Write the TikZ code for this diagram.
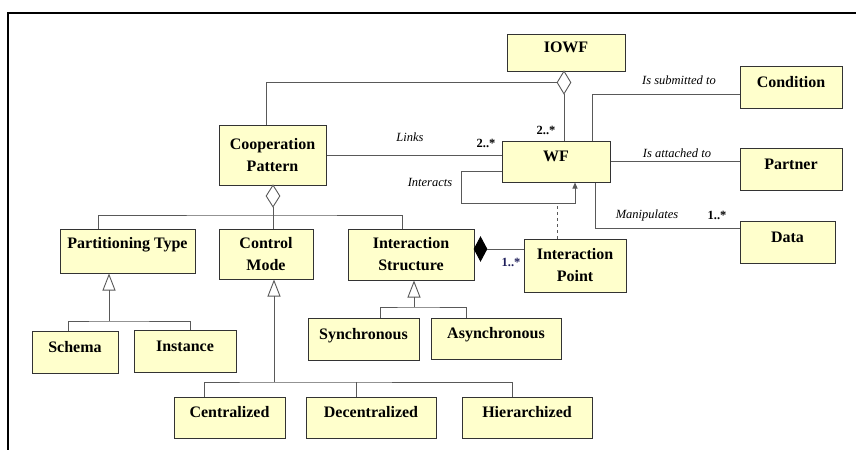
\documentclass[tikz,border=0pt]{standalone}
\usepackage{fontspec}
\setmainfont{Liberation Serif}
\usetikzlibrary{arrows.meta,shapes.geometric}
\definecolor{clsyellow}{RGB}{255,255,204}
\definecolor{multblue}{RGB}{30,30,90}
\newcommand{\clsfont}{\fontsize{16}{22}\selectfont\bfseries}
\newcommand{\labfont}{\fontsize{12.5}{14}\selectfont\itshape}
\newcommand{\multfont}{\fontsize{12.5}{14}\selectfont\bfseries}
\tikzset{
  cls/.style={draw=black!80,line width=1pt,fill=clsyellow,font=\clsfont,align=center,inner sep=0pt},
  oneline/.style={text height=11pt,text depth=11pt},
  link/.style={draw=black!65,line width=0.9pt},
  gen/.style={link,-{Triangle[open,length=17pt,width=13pt]}},
  agg/.style={diamond,draw=black!65,line width=0.9pt,fill=white,minimum width=14pt,minimum height=23pt,inner sep=0pt},
  lab/.style={font=\labfont},
  mult/.style={font=\multfont}
}
\begin{document}
\begin{tikzpicture}[x=1pt,y=-1pt]
\useasboundingbox (0,0) rectangle (856,450);
\draw[line width=2pt] (856,12.5) -- (7.5,12.5) -- (7.5,450);
\node[cls,oneline,minimum width=118pt,minimum height=37pt] (iowf) at (566,52.5) {IOWF};
\node[cls,minimum width=107pt,minimum height=60pt] (cp) at (272.5,155) {Cooperation\\Pattern};
\node[cls,oneline,minimum width=108pt,minimum height=41pt] (wf) at (556,161.5) {WF};
\node[cls,oneline,minimum width=102pt,minimum height=42pt] (condition) at (791,87) {Condition};
\node[cls,oneline,minimum width=102pt,minimum height=42pt] (partner) at (791,169) {Partner};
\node[cls,oneline,minimum width=95pt,minimum height=42pt] (data) at (787.5,242) {Data};
\node[cls,oneline,text depth=17pt,minimum width=135pt,minimum height=44pt] (ptype) at (127.5,251) {Partitioning Type};
\node[cls,minimum width=94pt,minimum height=50pt] (cmode) at (266,254) {Control\\Mode};
\node[cls,minimum width=126pt,minimum height=51pt] (istruct) at (411,254.5) {Interaction\\Structure};
\node[cls,minimum width=102pt,minimum height=53pt] (ipoint) at (575,265.5) {Interaction\\Point};
\node[cls,oneline,minimum width=86pt,minimum height=42pt] (schema) at (75,352) {Schema};
\node[cls,oneline,minimum width=102pt,minimum height=42pt] (instance) at (185,351) {Instance};
\node[cls,oneline,minimum width=111pt,minimum height=42pt] (sync) at (363.5,339) {Synchronous};
\node[cls,oneline,minimum width=130pt,minimum height=41pt] (async) at (496,338.5) {Asynchronous};
\node[cls,oneline,minimum width=111pt,minimum height=41pt] (central) at (229.5,417.5) {Centralized};
\node[cls,oneline,minimum width=130pt,minimum height=41pt] (decentral) at (371,417.5) {Decentralized};
\node[cls,oneline,minimum width=130pt,minimum height=41pt] (hierarch) at (527,417.5) {Hierarchized};
\node[agg] (aggiowf) at (564,82.5) {};
\node[agg,minimum height=22pt] (aggcp) at (273,196) {};
\node[agg,draw=black,fill=black,minimum width=13pt,minimum height=24pt] (compis) at (480.5,249) {};
\draw[link] ([xshift=-6.5pt]cp.north) |- (aggiowf.west);
\draw[link] (aggiowf.south) -- (aggiowf.south |- wf.north);
\draw[link] (cp.east) -- (cp.east -| wf.west);
\coordinate (loop) at (461,203);
\draw[link,-{Triangle[length=6pt,width=5pt]}] ([yshift=-9.5pt]wf.west) -| (loop) -| ([xshift=19pt]wf.south);
\draw[link,dashed] ([xshift=-18pt]ipoint.north) -- ([xshift=-18pt]ipoint.north |- loop);
\draw[link] ([xshift=36pt]wf.north) |- ([yshift=-7pt]condition.west);
\draw[link] (wf.east) -- (wf.east -| partner.west);
\draw[link] ([xshift=39pt]wf.south) |- ([yshift=14pt]data.west);
\draw[link] (compis.east) -- (compis.east -| ipoint.west);
\coordinate (cpbar) at (273,215);
\draw[link] (aggcp.south) -- (cpbar);
\draw[link] ([xshift=-29.5pt]ptype.north) |- (cpbar) -| ([xshift=-9pt]istruct.north);
\draw[link] (cpbar) -- (cpbar |- cmode.north);
\coordinate (ptbar) at (109,321);
\draw[link] ([xshift=-7pt]schema.north) |- (ptbar) -| ([xshift=5pt]instance.north);
\draw[gen] (ptbar) -- (ptbar |- ptype.south);
\coordinate (cmbar) at (274,382);
\draw[link] ([xshift=-25.5pt]central.north) |- (cmbar) -| ([xshift=-15pt]hierarch.north);
\draw[link] ([xshift=-15pt]decentral.north) -- ([xshift=-15pt]decentral.north |- cmbar);
\draw[gen] (cmbar) -- (cmbar |- cmode.south);
\coordinate (isbar) at (414,307);
\draw[link] ([xshift=16.5pt]sync.north) |- (isbar) -| ([xshift=-30pt]async.north);
\draw[gen] (isbar) -- (isbar |- istruct.south);
\node[lab] (links) at (410,137) {Links};
\node[mult] (mlinks) at (486,143) {2..*};
\node[mult] (miowf) at (546,130) {2..*};
\node[lab] (interacts) at (430,182) {Interacts};
\node[lab] (submitted) at (679,80) {Is submitted to};
\node[lab] (attached) at (677,153) {Is attached to};
\node[lab] (manip) at (647,215) {Manipulates};
\node[mult] (mdata) at (717,215) {1..*};
\node[mult,text=multblue] (mip) at (511,262) {1..*};
\end{tikzpicture}
\end{document}
